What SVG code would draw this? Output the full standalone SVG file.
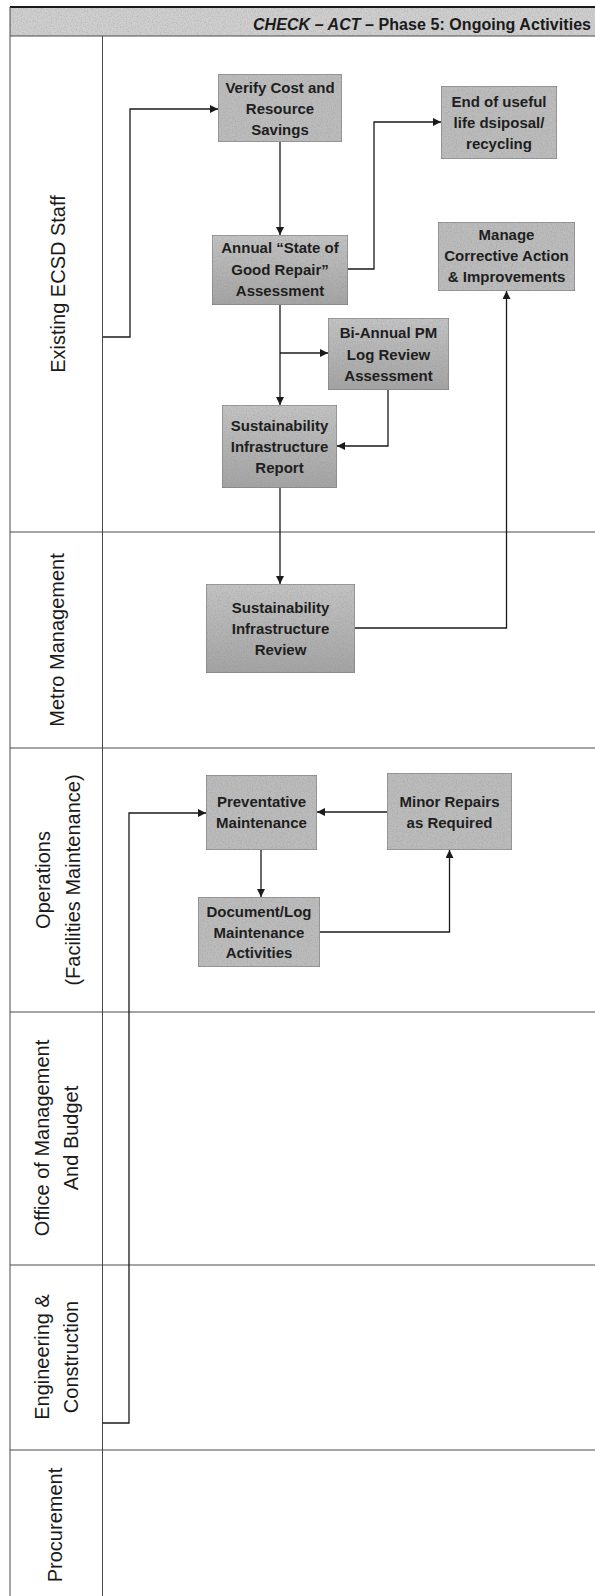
<svg xmlns="http://www.w3.org/2000/svg" width="595" height="1596" viewBox="0 0 595 1596">
<defs>
<style>
.grid{stroke:#4a4a4a;stroke-width:1;fill:none}
.node rect{fill:#bcbcbc;stroke:#7e7e7e;stroke-width:1.2;filter:url(#grain)}
.node rect.dark{fill:url(#gd)}
.node text{font-family:"Liberation Sans",Arial,sans-serif;font-weight:bold;font-size:15px;fill:#1e1e1e;text-anchor:middle}
.lane{font-family:"Liberation Sans",Arial,sans-serif;font-size:20px;fill:#1a1a1a;text-anchor:middle}
.conn path{fill:none;stroke:#1a1a1a;stroke-width:1.3;marker-end:url(#arr)}
</style>
<linearGradient id="gd" x1="0" y1="0" x2="0" y2="1">
<stop offset="0" stop-color="#c4c4c4"/>
<stop offset="1" stop-color="#a4a4a4"/>
</linearGradient>
<filter id="grain" x="0" y="0" width="100%" height="100%">
<feTurbulence type="fractalNoise" baseFrequency="0.8" numOctaves="2" seed="4" result="n"/>
<feColorMatrix in="n" type="matrix" values="0 0 0 0 0.25  0 0 0 0 0.25  0 0 0 0 0.25  0.9 0 0 0 -0.38" result="a"/>
<feComposite in="a" in2="SourceGraphic" operator="in" result="b"/>
<feMerge><feMergeNode in="SourceGraphic"/><feMergeNode in="b"/></feMerge>
</filter>
<marker id="arr" viewBox="0 0 8 8" refX="8" refY="4" markerWidth="8" markerHeight="8" markerUnits="userSpaceOnUse" orient="auto">
<path d="M0,0 L8,4 L0,8 z" fill="#1a1a1a"/>
</marker>
</defs>
<rect x="0" y="0" width="595" height="1596" fill="#ffffff"/>
<g id="header">
<rect x="10" y="7" width="585" height="29" fill="#cfcfcf" filter="url(#grain)"/>
<line x1="10" y1="7" x2="595" y2="7" stroke="#1a1a1a" stroke-width="2.2"/>
<text x="253" y="30" font-family="Liberation Sans,Arial,sans-serif" font-weight="bold" font-size="16" fill="#1a1a1a" textLength="338"><tspan font-style="italic">CHECK – ACT –</tspan> Phase 5: Ongoing Activities</text>
</g>
<g id="lanes" class="grid">
<line x1="10" y1="7" x2="10" y2="1596"/>
<line x1="102.5" y1="36" x2="102.5" y2="1596"/>
<line x1="10" y1="36" x2="595" y2="36"/>
<line x1="10" y1="532" x2="595" y2="532"/>
<line x1="10" y1="748" x2="595" y2="748"/>
<line x1="10" y1="1012" x2="595" y2="1012"/>
<line x1="10" y1="1265" x2="595" y2="1265"/>
<line x1="10" y1="1450" x2="595" y2="1450"/>
</g>
<g id="lane-labels">
<text class="lane" x="58" y="291" transform="rotate(-90 58 284)">Existing ECSD Staff</text>
<text class="lane" x="57" y="647" transform="rotate(-90 57 640)">Metro Management</text>
<text class="lane" transform="rotate(-90 57 880)"><tspan x="57" y="873">Operations</tspan><tspan x="57" y="903">(Facilities Maintenance)</tspan></text>
<text class="lane" transform="rotate(-90 56 1138)"><tspan x="56" y="1131">Office of Management</tspan><tspan x="56" y="1160">And Budget</tspan></text>
<text class="lane" transform="rotate(-90 56 1357)"><tspan x="56" y="1350">Engineering &amp;</tspan><tspan x="56" y="1379">Construction</tspan></text>
<text class="lane" x="55" y="1532" transform="rotate(-90 55 1525)">Procurement</text>
</g>
<g id="connectors" class="conn">
<path d="M103,337 H130 V109 H218"/>
<path d="M280,142 V235"/>
<path d="M348,269 H374 V122 H441"/>
<path d="M280,305 V405"/>
<path d="M280,353 H328"/>
<path d="M388,390 V446 H337"/>
<path d="M280,488 V584"/>
<path d="M355,628 H506.5 V291"/>
<path d="M102.5,1423 H129 V813 H206"/>
<path d="M387,812 H317"/>
<path d="M261,850 V897"/>
<path d="M320,932 H449.5 V850"/>
</g>
<g id="n-verify" class="node"><rect x="218" y="74" width="124" height="68"/><text x="280" y="93">Verify Cost and</text><text x="280" y="114">Resource</text><text x="280" y="135">Savings</text></g>
<g id="n-end" class="node"><rect x="441" y="86" width="116" height="73"/><text x="499" y="107">End of useful</text><text x="499" y="128">life dsiposal/</text><text x="499" y="149">recycling</text></g>
<g id="n-annual" class="node"><rect class="dark" x="212" y="235" width="136" height="70"/><text x="280" y="253">Annual “State of</text><text x="280" y="275">Good Repair”</text><text x="280" y="296">Assessment</text></g>
<g id="n-manage" class="node"><rect x="438" y="222" width="137" height="69"/><text x="506.5" y="240">Manage</text><text x="506.5" y="261">Corrective Action</text><text x="506.5" y="282">&amp; Improvements</text></g>
<g id="n-biannual" class="node"><rect class="dark" x="328" y="318" width="121" height="72"/><text x="388.5" y="338">Bi-Annual PM</text><text x="388.5" y="360">Log Review</text><text x="388.5" y="381">Assessment</text></g>
<g id="n-report" class="node"><rect class="dark" x="222" y="405" width="115" height="83"/><text x="279.5" y="431">Sustainability</text><text x="279.5" y="452">Infrastructure</text><text x="279.5" y="473">Report</text></g>
<g id="n-review" class="node"><rect class="dark" x="206" y="584" width="149" height="89"/><text x="280.5" y="613">Sustainability</text><text x="280.5" y="634">Infrastructure</text><text x="280.5" y="655">Review</text></g>
<g id="n-prevent" class="node"><rect x="206" y="775" width="111" height="75"/><text x="261.5" y="807">Preventative</text><text x="261.5" y="828">Maintenance</text></g>
<g id="n-minor" class="node"><rect x="387" y="773" width="125" height="77"/><text x="449.5" y="807">Minor Repairs</text><text x="449.5" y="828">as Required</text></g>
<g id="n-document" class="node"><rect x="198" y="897" width="122" height="70"/><text x="259" y="917">Document/Log</text><text x="259" y="938">Maintenance</text><text x="259" y="958">Activities</text></g>
</svg>
